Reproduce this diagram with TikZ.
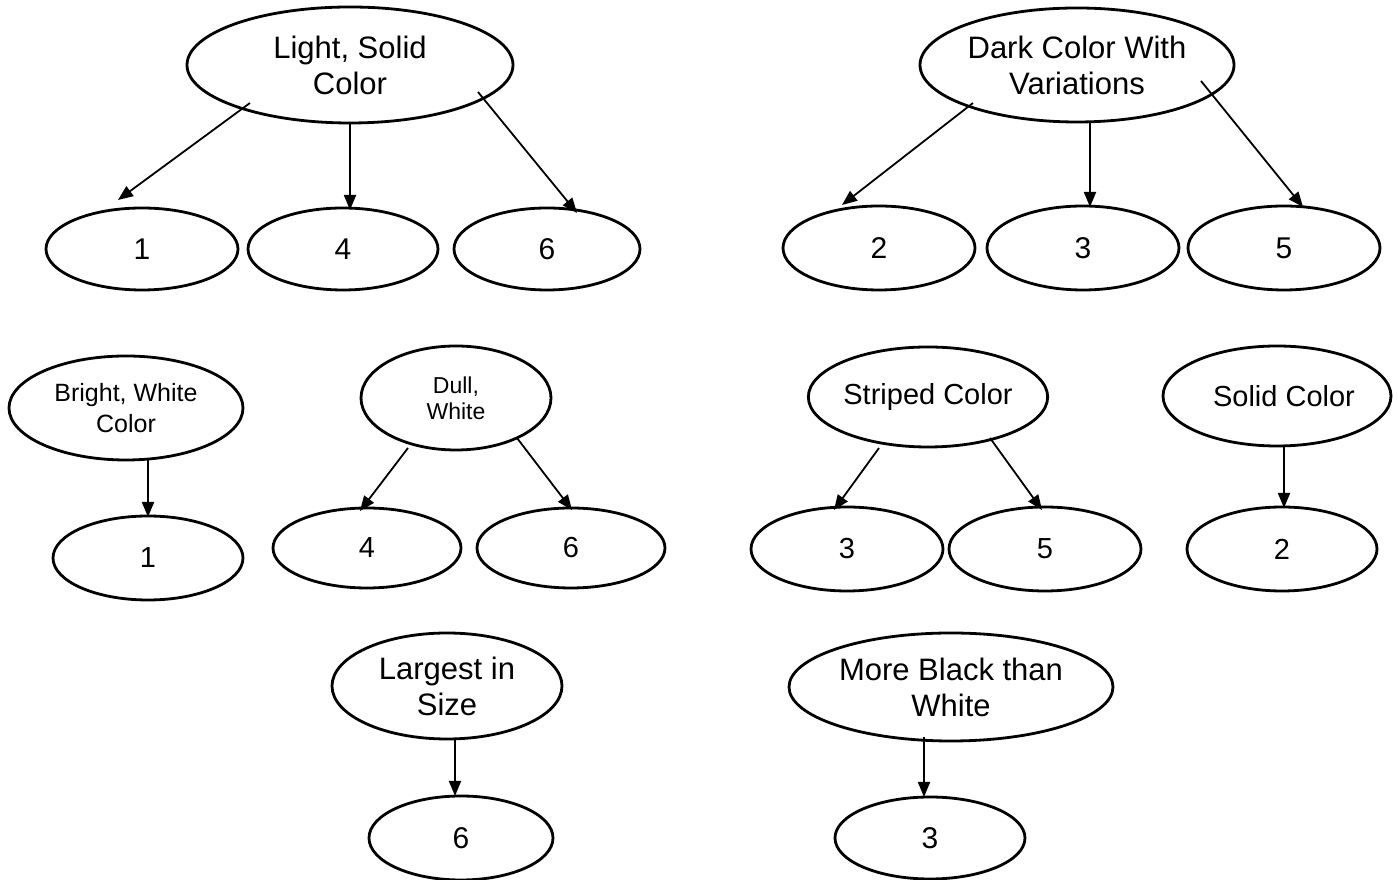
\documentclass[tikz,border=0pt]{standalone}
\usepackage{fontspec}
\setmainfont{Liberation Sans}
\usetikzlibrary{shapes.geometric,arrows.meta}
\begin{document}
\begin{tikzpicture}[x=1pt,y=1pt,
  oval/.style={ellipse,draw=black,line width=2.8pt,inner sep=0pt,align=center},
  arr/.style={line width=1.8pt,-{Triangle[length=15pt,width=12pt]}},
  big/.style={font=\fontsize{31}{36}\selectfont},
  num/.style={font=\fontsize{30}{36}\selectfont},
  mid/.style={font=\fontsize{29}{34}\selectfont},
  small/.style={font=\fontsize{25}{31}\selectfont},
  tiny/.style={font=\fontsize{23}{26}\selectfont}]
\useasboundingbox (0,0) rectangle (1398,880);
% y_tikz = 880 - y_img
% --- top left
\node[oval,big,minimum width=326pt,minimum height=116pt] (L) at (350,815) {Light, Solid\\Color};
\node[oval,num,minimum width=192pt,minimum height=82pt] (L1) at (142,631) {1};
\node[oval,num,minimum width=190pt,minimum height=82pt] (L4) at (343,631) {4};
\node[oval,num,minimum width=186pt,minimum height=82pt] (L6) at (547,631) {6};
\draw[arr] ([xshift=-100pt,yshift=-38pt]L.center) -- ([xshift=-24pt,yshift=49pt]L1.center);
\draw[arr] ([xshift=0pt,yshift=-58pt]L.center) -- ([xshift=7pt,yshift=39pt]L4.center);
\draw[arr] ([xshift=128pt,yshift=-27pt]L.center) -- ([xshift=30pt,yshift=36pt]L6.center);
% --- top right
\node[oval,big,minimum width=314pt,minimum height=114pt] (D) at (1077,815) {Dark Color With\\Variations};
\node[oval,num,minimum width=192pt,minimum height=84pt] (D2) at (879,632) {2};
\node[oval,num,minimum width=192pt,minimum height=84pt] (D3) at (1083,632) {3};
\node[oval,num,minimum width=192pt,minimum height=84pt] (D5) at (1284,632) {5};
\draw[arr] ([xshift=-104pt,yshift=-38pt]D.center) -- ([xshift=-37pt,yshift=43pt]D2.center);
\draw[arr] ([xshift=13pt,yshift=-57pt]D.center) -- ([xshift=7pt,yshift=41pt]D3.center);
\draw[arr] ([xshift=124pt,yshift=-16pt]D.center) -- ([xshift=19pt,yshift=41pt]D5.center);
% --- middle row
\node[oval,small,minimum width=234pt,minimum height=104pt] (B) at (126,472) {Bright, White\\Color};
\node[oval,mid,minimum width=190pt,minimum height=84pt] (B1) at (148,322) {1};
\draw[arr] ([xshift=22pt,yshift=-52pt]B.center) -- ([xshift=0pt,yshift=41pt]B1.center);
\node[oval,tiny,minimum width=190pt,minimum height=104pt] (U) at (456,482) {Dull,\\White};
\node[oval,mid,minimum width=188pt,minimum height=80pt] (U4) at (367,332) {4};
\node[oval,mid,minimum width=188pt,minimum height=80pt] (U6) at (571,332) {6};
\draw[arr] ([xshift=-48pt,yshift=-50pt]U.center) -- ([xshift=-7pt,yshift=37pt]U4.center);
\draw[arr] ([xshift=61pt,yshift=-40pt]U.center) -- ([xshift=1pt,yshift=38pt]U6.center);
\node[oval,mid,minimum width=232pt,minimum height=100pt] (S) at (928,483) {Striped Color};
\node[oval,mid,minimum width=192pt,minimum height=84pt] (S3) at (847,331) {3};
\node[oval,mid,minimum width=192pt,minimum height=84pt] (S5) at (1045,331) {5};
\draw[arr] ([xshift=-49pt,yshift=-51pt]S.center) -- ([xshift=-13pt,yshift=39pt]S3.center);
\draw[arr] ([xshift=62pt,yshift=-41pt]S.center) -- ([xshift=-3pt,yshift=39pt]S5.center);
\node[oval,mid,minimum width=228pt,minimum height=100pt] (O) at (1277,484) {\hspace*{14pt}Solid Color};
\node[oval,mid,minimum width=190pt,minimum height=84pt] (O2) at (1282,331) {2};
\draw[arr] ([xshift=7pt,yshift=-50pt]O.center) -- ([xshift=2pt,yshift=41pt]O2.center);
% --- bottom row
\node[oval,big,minimum width=230pt,minimum height=106pt] (G) at (447,194) {Largest in\\Size};
\node[oval,num,minimum width=184pt,minimum height=84pt] (G6) at (461,42) {6};
\draw[arr] ([xshift=8pt,yshift=-52pt]G.center) -- ([xshift=-6pt,yshift=42pt]G6.center);
\node[oval,big,minimum width=324pt,minimum height=108pt] (M) at (951,193) {More Black than\\White};
\node[oval,num,minimum width=190pt,minimum height=82pt] (M3) at (930,42) {3};
\draw[arr] ([xshift=-27pt,yshift=-50pt]M.center) -- ([xshift=-6pt,yshift=41pt]M3.center);
\end{tikzpicture}
\end{document}
